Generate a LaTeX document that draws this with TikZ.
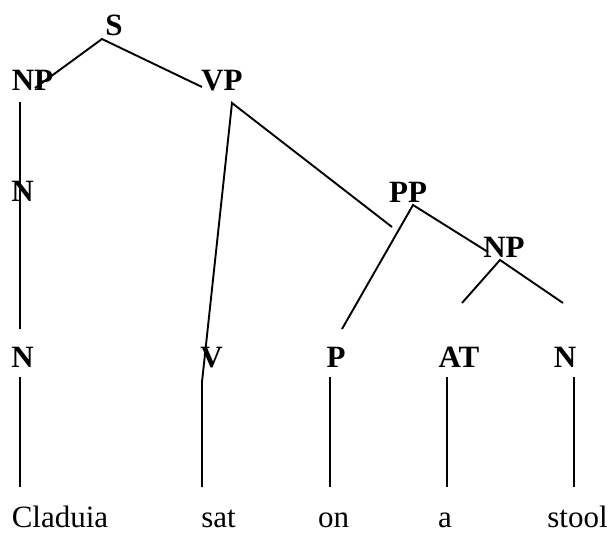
\documentclass[tikz,border=0pt]{standalone}
\usepackage{fontspec}
\setmainfont{Liberation Serif}
\begin{document}
\begin{tikzpicture}[x=1pt,y=-1pt,
  cat/.style={font=\fontsize{31}{34}\selectfont\bfseries,inner sep=0pt,anchor=base},
  word/.style={font=\fontsize{31}{34}\selectfont,inner sep=0pt,anchor=base},
  branch/.style={line width=1.9pt,line cap=butt,line join=miter}]
\useasboundingbox (0,0) rectangle (611,533);

% category labels
\node[cat] (s)   at (114,35)  {S};
\node[cat] (np)  at (32.5,90) {NP};
\node[cat] (vp)  at (222,90)  {VP};
\node[cat] (nm)  at (22.5,201) {N};
\node[cat] (pp)  at (408,202) {PP};
\node[cat] (np2) at (504,257) {NP};
\node[cat] (n1)  at (22.5,367) {N};
\node[cat] (v)   at (211.5,367) {V};
\node[cat] (p)   at (336,367) {P};
\node[cat] (at)  at (459,367) {AT};
\node[cat] (n2)  at (565,367) {N};

% words
\node[word] (w1) at (60,527)    {Claduia};
\node[word] (w2) at (218.5,527) {sat};
\node[word] (w3) at (333.5,527) {on};
\node[word] (w4) at (445,527)   {a};
\node[word] (w5) at (577.5,527) {stool};

% branch end points
\coordinate (s-foot)   at (102,39);
\coordinate (np-top)   at (35,88);
\coordinate (vp-top)   at (202,87);
\coordinate (np-foot)  at (20,102);
\coordinate (nm-end)   at (20,329);
\coordinate (vp-foot)  at (232,103);
\coordinate (v-bend)   at (202,382);
\coordinate (w2-top)   at (202,487);
\coordinate (pp-top)   at (392,227);
\coordinate (pp-foot)  at (413,205);
\coordinate (p-top)    at (342,329);
\coordinate (np2-top)  at (488,252);
\coordinate (np2-foot) at (500,260);
\coordinate (at-top)   at (462,303);
\coordinate (n2-top)   at (563,303);
\coordinate (n1-foot)  at (20,377);
\coordinate (w1-top)   at (20,487);
\coordinate (p-foot)   at (330,377);
\coordinate (w3-top)   at (330,487);
\coordinate (at-foot)  at (447,377);
\coordinate (w4-top)   at (447,487);
\coordinate (n2-foot)  at (574,377);
\coordinate (w5-top)   at (574,487);

% branches
\draw[branch] (np-top) -- (s-foot) -- (vp-top);
\draw[branch] (np-foot) -- (nm-end);
\draw[branch] (pp-top) -- (vp-foot) -- (v-bend) -- (w2-top);
\draw[branch] (p-top) -- (pp-foot) -- (np2-top);
\draw[branch] (at-top) -- (np2-foot) -- (n2-top);
\draw[branch] (n1-foot) -- (w1-top);
\draw[branch] (p-foot) -- (w3-top);
\draw[branch] (at-foot) -- (w4-top);
\draw[branch] (n2-foot) -- (w5-top);
\end{tikzpicture}
\end{document}
